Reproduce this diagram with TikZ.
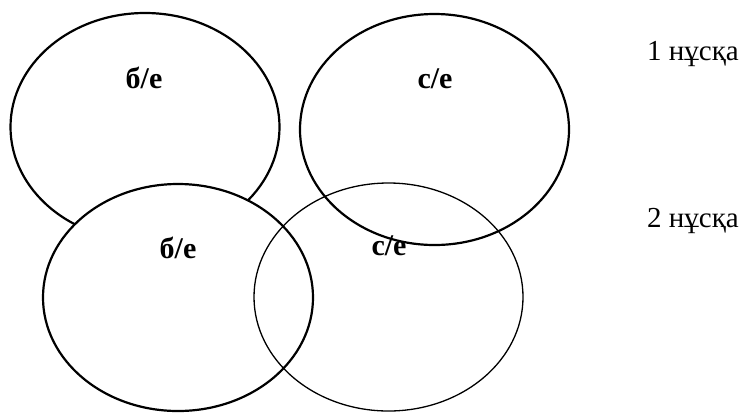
\documentclass[tikz,border=0pt]{standalone}
\usepackage{fontspec}
\setmainfont{Liberation Serif}
\begin{document}
\begin{tikzpicture}[x=1bp,y=-1bp,
  thickell/.style={draw=black,line width=2.2bp},
  thinell/.style={draw=black,line width=1.3bp},
  boldlbl/.style={font=\fontsize{30bp}{36bp}\selectfont\bfseries,inner sep=0pt},
  plainlbl/.style={font=\fontsize{29bp}{34bp}\selectfont,inner sep=0pt,anchor=base}]
\useasboundingbox (0,0) rectangle (742,412);
\draw[thickell] (145,127) ellipse [x radius=134.5, y radius=114];
\draw[thickell] (434.5,129.5) ellipse [x radius=134.5, y radius=115.5];
\draw[thickell,fill=white] (178,297.5) ellipse [x radius=135, y radius=113.5];
\draw[thinell] (388.5,297) ellipse [x radius=134.5, y radius=114];
\node[boldlbl] (a) at (144,78) {б/е};
\node[boldlbl] (b) at (435,79) {с/е};
\node[boldlbl] (c) at (178,248) {б/е};
\node[boldlbl] (d) at (389,246) {с/е};
\node[plainlbl] (e) at (693,60) {1 нұсқа};
\node[plainlbl] (f) at (693,227) {2 нұсқа};
\end{tikzpicture}
\end{document}
